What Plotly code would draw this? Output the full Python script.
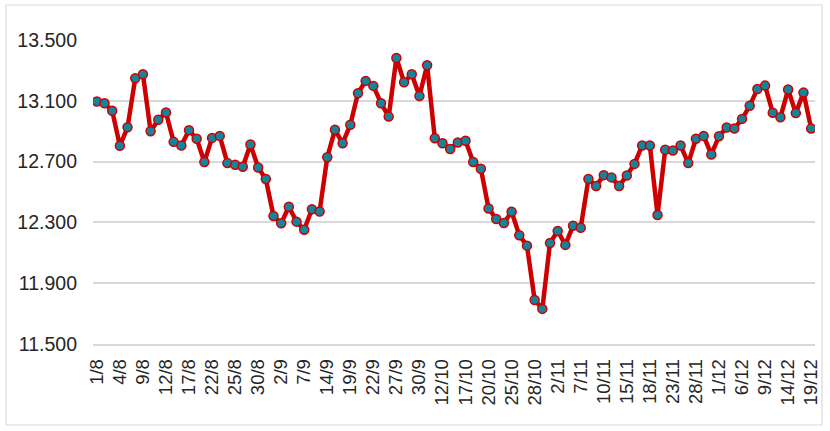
import plotly.graph_objects as go

dates = [
    "1/8", "2/8", "3/8", "4/8", "5/8", "8/8", "9/8", "10/8", "11/8", "12/8",
    "15/8", "16/8", "17/8", "18/8", "19/8", "22/8", "23/8", "24/8", "25/8", "26/8",
    "29/8", "30/8", "31/8", "1/9", "2/9", "5/9", "6/9", "7/9", "8/9", "13/9",
    "14/9", "15/9", "16/9", "19/9", "20/9", "21/9", "22/9", "23/9", "26/9", "27/9",
    "28/9", "29/9", "30/9", "10/10", "11/10", "12/10", "13/10", "14/10", "17/10", "18/10",
    "19/10", "20/10", "21/10", "24/10", "25/10", "26/10", "27/10", "28/10", "31/10", "1/11",
    "2/11", "3/11", "4/11", "7/11", "8/11", "9/11", "10/11", "11/11", "14/11", "15/11",
    "16/11", "17/11", "18/11", "21/11", "22/11", "23/11", "24/11", "25/11", "28/11", "29/11",
    "30/11", "1/12", "2/12", "5/12", "6/12", "7/12", "8/12", "9/12", "12/12", "13/12",
    "14/12", "15/12", "16/12", "19/12",
]

values = [
    13095, 13084, 13034, 12804, 12926, 13248, 13275, 12900, 12975, 13023,
    12830, 12806, 12907, 12850, 12697, 12856, 12869, 12690, 12679, 12666,
    12812, 12661, 12585, 12342, 12294, 12403, 12305, 12252, 12386, 12372,
    12729, 12909, 12821, 12942, 13150, 13231, 13198, 13084, 12996, 13382,
    13222, 13275, 13132, 13334, 12854, 12821, 12783, 12826, 12837, 12697,
    12653, 12392, 12322, 12296, 12370, 12215, 12147, 11790, 11731, 12165,
    12244, 12152, 12278, 12265, 12585, 12539, 12611, 12596, 12539, 12609,
    12685, 12806, 12806, 12349, 12778, 12773, 12806, 12690, 12850, 12869,
    12747, 12867, 12924, 12917, 12981, 13067, 13178, 13200, 13021, 12992,
    13174, 13019, 13154, 12917,
]

tick_labels = dates[::3]
y_ticks = [11500, 11900, 12300, 12700, 13100, 13500]
y_tick_text = ["11.500", "11.900", "12.300", "12.700", "13.100", "13.500"]

fig = go.Figure()
fig.add_trace(go.Scatter(
    x=dates, y=values, mode="lines+markers",
    line=dict(color="#CC0000", width=4.5),
    marker=dict(size=9, color="#14849C", line=dict(color="#CC0000", width=1.5)),
    showlegend=False,
))

L, R, T, B = 93, 815, 40, 344
W, H = 830, 431
pw, ph = R - L, B - T

def px_x(p):
    return (p - L) / pw

def px_y(p):
    return (B - p) / ph

fig.update_layout(
    width=W, height=H,
    margin=dict(l=L, r=W - R, t=T, b=H - B, autoexpand=False),
    paper_bgcolor="white", plot_bgcolor="white",
    font=dict(family="Liberation Sans, Arial, sans-serif", color="#262626"),
    xaxis=dict(
        type="category",
        categoryorder="array", categoryarray=dates,
        range=[-0.5, len(dates) - 0.5],
        tickmode="array", tickvals=tick_labels, ticktext=tick_labels,
        tickangle=-90, tickfont=dict(size=18.5),
        showgrid=False, showline=True, linecolor="#D9D9D9", linewidth=1.5,
        ticks="", ticklabelstandoff=6,
    ),
    yaxis=dict(
        range=[11500, 13500],
        tickmode="array", tickvals=y_ticks, ticktext=y_tick_text,
        tickfont=dict(size=19.5),
        showgrid=True, gridcolor="#D9D9D9", gridwidth=1.5,
        zeroline=False, showline=False, ticks="", ticklabelstandoff=15,
    ),
    shapes=[dict(
        type="rect", xref="paper", yref="paper",
        x0=px_x(6), x1=px_x(822), y0=px_y(425), y1=px_y(5),
        line=dict(color="#D9D9D9", width=1.2), fillcolor="rgba(0,0,0,0)",
        layer="below",
    )],
)

fig.write_html(
    "out.html",
    config={"displayModeBar": False},
    post_script="document.body.style.margin='0';",
)
